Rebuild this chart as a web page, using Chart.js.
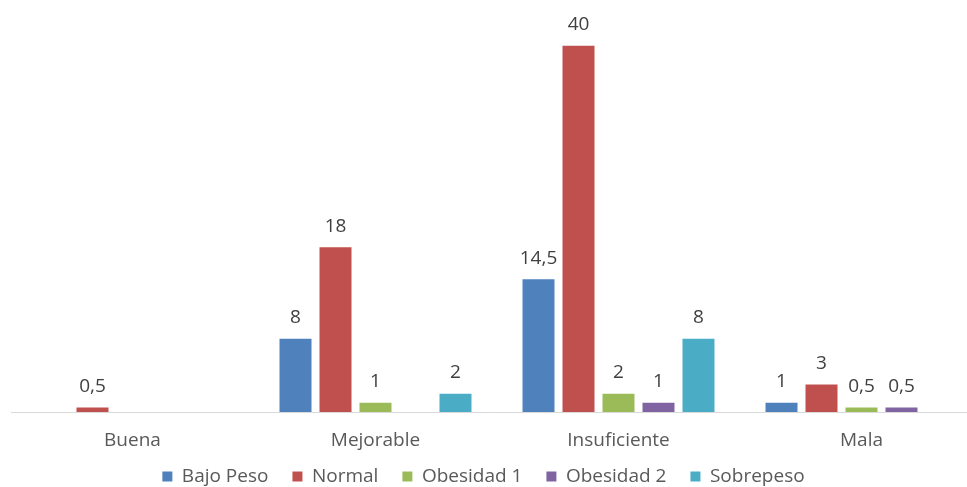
<!DOCTYPE html>
<html lang="es">
<head>
<meta charset="utf-8">
<title>Valoración por estado nutricional</title>
<script src="https://cdn.jsdelivr.net/npm/chart.js@4.4.1/dist/chart.umd.min.js"></script>
<style>
  html, body { margin: 0; padding: 0; background: #ffffff; overflow: hidden; }
  #wrap { position: relative; width: 967px; height: 487px; }
</style>
</head>
<body>
<div id="wrap"><canvas id="chart"></canvas></div>
<script>
// Categorías de valoración
const categories = ['Buena', 'Mejorable', 'Insuficiente', 'Mala'];

// Valores por estado nutricional (null = sin barra)
const bajoPeso   = [null, 8, 14.5, 1];
const normal     = [0.5, 18, 40, 3];
const obesidad1  = [null, 1, 2, 0.5];
const obesidad2  = [null, null, 1, 0.5];
const sobrepeso  = [null, 2, 8, null];

const seriesNames = ['Bajo Peso', 'Normal', 'Obesidad 1', 'Obesidad 2', 'Sobrepeso'];
const seriesValues = [bajoPeso, normal, obesidad1, obesidad2, sobrepeso];
const seriesColors = ['#4F81BD', '#C0504D', '#9BBB59', '#8064A2', '#4BACC6'];

const FONT = "'Open Sans', 'Noto Sans', sans-serif";

// Etiquetas de valor encima de cada barra, con coma decimal
const valueLabels = {
  id: 'valueLabels',
  afterDatasetsDraw(chart) {
    const ctx = chart.ctx;
    ctx.save();
    ctx.font = '19px ' + FONT;
    ctx.fillStyle = '#404040';
    ctx.textAlign = 'center';
    ctx.textBaseline = 'middle';
    chart.data.datasets.forEach((ds, di) => {
      const meta = chart.getDatasetMeta(di);
      if (meta.hidden) return;
      meta.data.forEach((bar, i) => {
        const v = ds.data[i];
        if (v === null || v === undefined) return;
        ctx.fillText(String(v).replace('.', ','), bar.x, bar.y - 21);
      });
    });
    ctx.restore();
  }
};

// El eje de categorías ocupa un ancho algo mayor que el lienzo,
// y su zona de etiquetas se alarga para que el texto no se recorte
const widenX = {
  id: 'widenX',
  afterLayout(chart) {
    const x = chart.scales.x;
    x.left = 11;
    x.right = 983;
    x.width = x.right - x.left;
    x.bottom = x.top + 48;
    x.configure();
  }
};

new Chart(document.getElementById('chart'), {
  type: 'bar',
  data: {
    labels: categories,
    datasets: seriesNames.map((name, k) => ({
      label: name,
      data: seriesValues[k],
      backgroundColor: seriesColors[k],
      borderWidth: 0,
      barPercentage: 0.8,
      categoryPercentage: 0.823
    }))
  },
  options: {
    responsive: true,
    maintainAspectRatio: false,
    animation: false,
    layout: { padding: { left: 0, right: 0, top: 0, bottom: -9 } },
    scales: {
      x: {
        grid: { display: false, drawTicks: false },
        border: { display: true, color: '#d9d9d9', width: 1 },
        ticks: { color: '#595959', font: { family: FONT, size: 19 }, padding: 17 },
        afterFit(scale) { scale.height = 31; }
      },
      y: {
        display: false,
        min: 0,
        max: 45
      }
    },
    plugins: {
      legend: {
        position: 'bottom',
        labels: {
          color: '#595959',
          font: { family: FONT, size: 19 },
          boxWidth: 10,
          boxHeight: 10,
          padding: 24
        }
      },
      tooltip: { enabled: false }
    }
  },
  plugins: [valueLabels, widenX]
});
</script>
</body>
</html>
